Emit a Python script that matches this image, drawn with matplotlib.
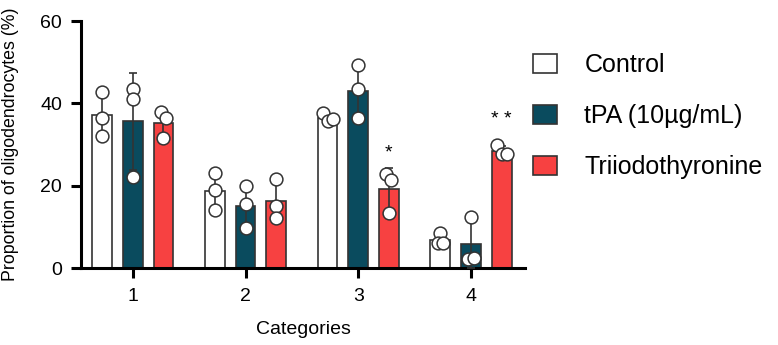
import numpy as np
import matplotlib

matplotlib.use('Agg')
import matplotlib.pyplot as plt

plt.rcParams['font.family'] = ['Liberation Sans', 'DejaVu Sans']

categories = ['1', '2', '3', '4']
groups = ['Control', 'tPA (10\u00b5g/mL)', 'Triiodothyronine']
colors = ['#ffffff', '#0a4b5e', '#f74141']

# individual replicate values per category
control = [[42.7, 36.5, 32.1], [23.2, 18.9, 14.1], [37.6, 35.7, 36.1], [8.4, 6.2, 6.0]]
tpa = [[43.6, 41.0, 22.2], [20.0, 15.5, 9.8], [49.3, 43.6, 36.4], [12.5, 2.3, 2.5]]
t3 = [[37.8, 36.4, 31.7], [21.6, 15.1, 12.2], [22.8, 21.5, 13.3], [29.8, 27.8, 27.6]]
stars = {(2, 2): '*', (3, 2): '* *'}
star_y = {(2, 2): 28.0, (3, 2): 36.0}


def dodge(vals, gap=2.2, step=0.045):
    """Spread points sideways when they sit on top of each other."""
    offs = np.zeros(len(vals))
    for i in range(len(vals)):
        close = [j for j in range(len(vals)) if j != i and abs(vals[j] - vals[i]) < gap]
        if close:
            rank = sorted([i] + close).index(i)
            offs[i] = (rank - len(close) / 2) * step
    return offs


fig = plt.figure(figsize=(7.78, 3.45), dpi=100)
ax = fig.add_axes([0.104, 0.223, 0.571, 0.716])

x = np.arange(len(categories))
width = 0.175
shift = 0.272
edge = '#333333'

for g, data in enumerate([control, tpa, t3]):
    pos = x + (g - 1) * shift
    means = [np.mean(v) for v in data]
    sds = [np.std(v, ddof=1) for v in data]
    ax.bar(pos, means, width, color=colors[g], edgecolor=edge, linewidth=1.2,
           label=groups[g], zorder=2)
    ax.errorbar(pos, means, yerr=sds, fmt='none', ecolor=edge, elinewidth=1.2,
                capsize=3, capthick=1.2, zorder=3)
    for i, vals in enumerate(data):
        offs = dodge(vals)
        ax.scatter(pos[i] + offs, vals, s=85, facecolor='white', edgecolor=edge,
                   linewidth=1.1, zorder=4)
        if (i, g) in stars:
            ax.text(pos[i], star_y[(i, g)], stars[(i, g)], ha='center', va='center',
                    fontsize=14)

ax.set_xlim(-0.46, 3.48)
ax.set_ylim(0, 60)
ax.set_yticks([0, 20, 40, 60])
ax.set_xticks(x)
ax.set_xticklabels(categories)
ax.spines['top'].set_visible(False)
ax.spines['right'].set_visible(False)
ax.spines['left'].set_linewidth(2.2)
ax.spines['bottom'].set_linewidth(2.2)
ax.tick_params(width=2.2, length=7.5, labelsize=14)
ax.tick_params(axis='y', pad=6)
ax.tick_params(axis='x', pad=7)
ax.set_ylabel('Proportion of oligodendrocytes (%)', fontsize=12.8)
ax.yaxis.set_label_coords(-0.14, 0.5)
ax.set_xlabel('Categories', fontsize=14)
ax.xaxis.set_label_coords(0.5, -0.216)

ax.legend(loc='upper left', bbox_to_anchor=(1.018, 0.869), frameon=False, fontsize=18,
          handlelength=0.95, handleheight=0.8, handletextpad=1.1, labelspacing=1.08,
          borderpad=0, borderaxespad=0)

plt.savefig('out.png', dpi=100)
plt.close(fig)
